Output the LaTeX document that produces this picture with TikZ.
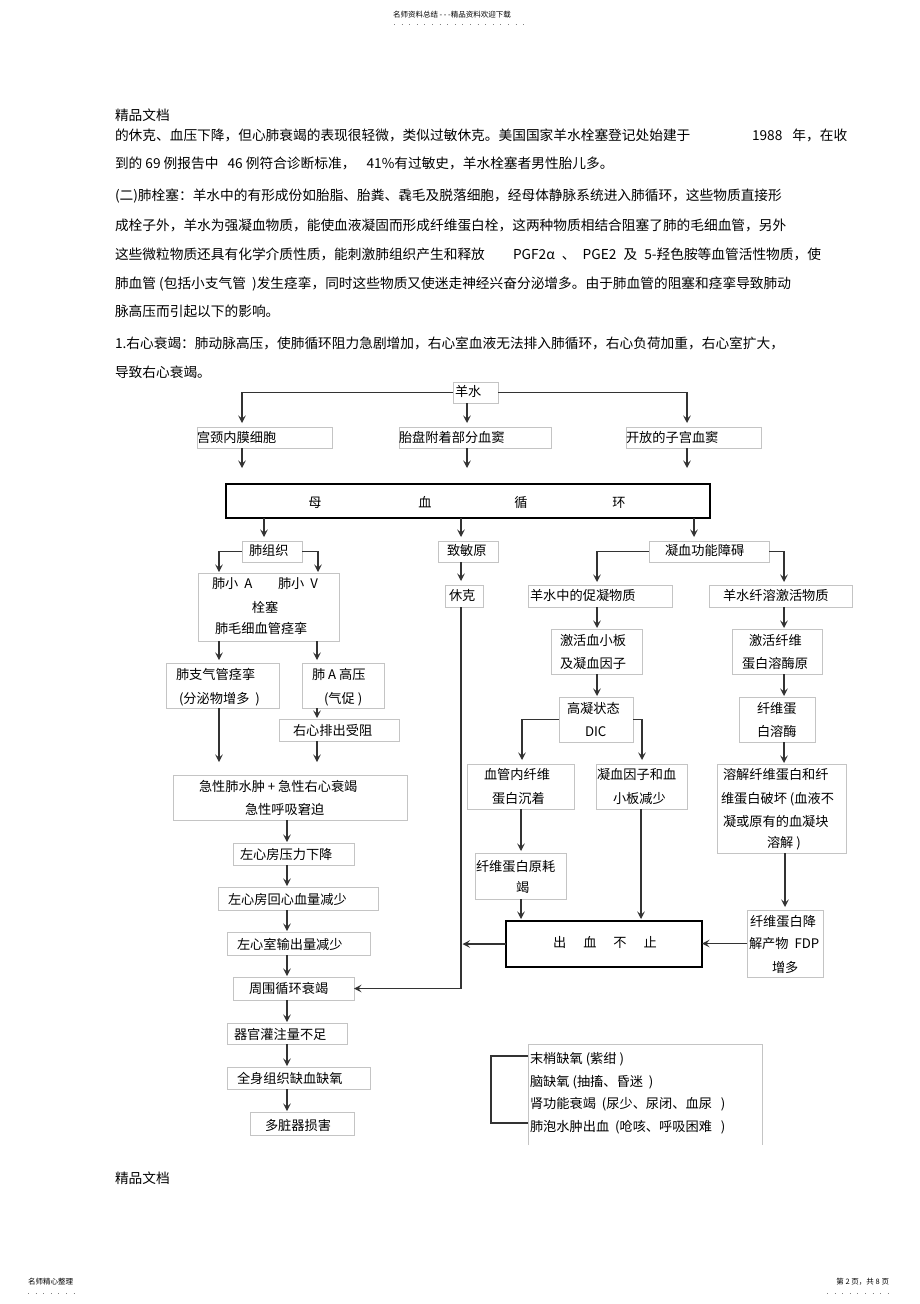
\documentclass[tikz,border=0pt]{standalone}
\usepackage{fontspec}
\setmainfont{Noto Sans CJK SC}
\usetikzlibrary{arrows.meta}
\definecolor{boxgray}{HTML}{C4C4C4}
\definecolor{arrgray}{HTML}{333333}
\newcommand\bodyfont{\fontsize{13.7}{16}\selectfont}
\newcommand\dgfont{\fontsize{13.2}{16}\selectfont}
\newcommand\smallfont{\fontsize{7.5}{9}\selectfont}
\newcount\tcnt
% text, west-aligned, diagram font
\newcommand\tw[3]{\global\advance\tcnt by 1 \node[tx,anchor=base west,font=\dgfont] (t\the\tcnt) at (#1,{#2+4.8}) {#3};}
% text, centred, diagram font
\newcommand\tc[3]{\global\advance\tcnt by 1 \node[tx,anchor=base,font=\dgfont] (t\the\tcnt) at (#1,{#2+4.8}) {#3};}
% body text
\newcommand\bw[3]{\global\advance\tcnt by 1 \node[tx,anchor=base west,font=\bodyfont] (t\the\tcnt) at (#1,{#2+5}) {#3};}
% box from corners
\newcommand\bxn[6][]{\node[bx,#1,minimum width={#5-#3},minimum height={#6-#4}] (#2) at ({(#3+#5)/2},{(#4+#6)/2}) {};}
% vertical arrow
\newcommand\varr[4][1]{\path ([xshift=#4pt]#2.south) coordinate (vtmp); \draw[arr,shorten >=#1pt] (vtmp) -- (vtmp |- #3.north);}
% elbow arrow
\newcommand\earr[5][1]{\path ([xshift=#5pt]#3.north) coordinate (etmp); \draw[arr,shorten >=#1pt] (#2.#4) -| (etmp);}
\begin{document}
\begin{tikzpicture}[x=1pt,y=-1pt,
 bx/.style={draw=boxgray,line width=0.75pt,inner sep=0pt,outer sep=0pt,rectangle},
 bxk/.style={draw=black,line width=1.5pt},
 tx/.style={inner sep=0pt,outer sep=0pt,text=black},
 arr/.style={draw=arrgray,line width=1.5pt,-{Stealth[length=7.5pt,width=7.5pt,inset=3pt]}},
 ln/.style={draw=arrgray,line width=1.5pt},
 boxline/.style={draw=boxgray,line width=0.75pt},
 dotl/.style={draw=gray,line width=0.9pt,dash pattern=on 0.9pt off 6.7pt},
]
\path[fill=white] (0,0) rectangle (920,1304);

% header / footer
\node[tx,font=\smallfont,anchor=base west] (hd) at (393,17.5) {名师资料总结 - - -精品资料欢迎下载};
\draw[dotl] (394,24) -- (525,24);
\node[tx,font=\smallfont,anchor=base west] (ft1) at (28,1284) {名师精心整理};
\draw[dotl] (28,1293) -- (76,1293);
\node[tx,font=\smallfont,anchor=base east] (ft2) at (889,1284) {第 2 页，共 8 页};
\draw[dotl] (827,1293) -- (890,1293);
\bw{115}{115}{精品文档}
\bw{115}{1178}{精品文档}

% body text
\bw{115}{135}{的休克、血压下降，但心肺衰竭的表现很轻微，类似过敏休克。美国国家羊水栓塞登记处始建于}
\bw{752}{135}{1988\hspace{7pt} 年，在收}
\bw{115}{163}{到的 69 例报告中\hspace{6pt} 46 例符合诊断标准，\hspace{8pt} 41\%有过敏史，羊水栓塞者男性胎儿多。}
\bw{115}{195}{(二)肺栓塞：羊水中的有形成份如胎脂、胎粪、毳毛及脱落细胞，经母体静脉系统进入肺循环，这些物质直接形}
\bw{115}{225}{成栓子外，羊水为强凝血物质，能使血液凝固而形成纤维蛋白栓，这两种物质相结合阻塞了肺的毛细血管，另外}
\bw{115}{254}{这些微粒物质还具有化学介质性质，能刺激肺组织产生和释放}
\bw{513}{254}{PGF2α\hspace{4pt} 、\hspace{4pt} PGE2\hspace{4pt} 及\hspace{4pt} 5-羟色胺等血管活性物质，使}
\bw{115}{283}{肺血管 (包括小支气管 \ )发生痉挛，同时这些物质又使迷走神经兴奋分泌增多。由于肺血管的阻塞和痉挛导致肺动}
\bw{115}{311}{脉高压而引起以下的影响。}
\bw{115}{343}{1.右心衰竭：肺动脉高压，使肺循环阻力急剧增加，右心室血液无法排入肺循环，右心负荷加重，右心室扩大，}
\bw{115}{372}{导致右心衰竭。}

% boxes
\bxn{ys}{453}{382}{498}{403}
\bxn{gj}{197}{427}{332}{448}
\bxn{tp}{399}{427}{551}{448}
\bxn{kf}{626}{427}{761}{448}
\bxn[bxk]{mx}{226}{484}{710}{518}
\bxn{fzz}{242}{541}{302}{562}
\bxn{zmy}{438}{541}{498}{562}
\bxn{nx}{649}{541}{769}{562}
\bxn{fx}{198}{573}{339}{641}
\bxn{xk}{445}{585}{483}{607}
\bxn{cn}{528}{585}{672}{607}
\bxn{xr}{709}{585}{852}{607}
\bxn{zq}{166}{663}{279}{708}
\bxn{fa}{302}{663}{384}{708}
\bxn{jh}{551}{629}{642}{674}
\bxn{jq}{732}{629}{822}{674}
\bxn{yx}{279}{719}{399}{741}
\bxn{gn}{559}{697}{633}{742}
\bxn{xm}{739}{697}{815}{742}
\bxn{xg}{467}{764}{574}{809}
\bxn{nyz}{596}{764}{687}{809}
\bxn{rj}{717}{764}{846}{853}
\bxn{jx}{173}{775}{407}{820}
\bxn{zx}{233}{843}{354}{865}
\bxn{hj}{475}{853}{566}{899}
\bxn{hx}{218}{887}{378}{910}
\bxn{fdp}{747}{910}{823}{977}
\bxn[bxk]{cx}{506}{921}{702}{967}
\bxn{sx}{227}{932}{370}{955}
\bxn{zw}{233}{977}{354}{1000}
\bxn{qg}{227}{1023}{347}{1044}
\bxn{qs}{227}{1067}{370}{1089}
\bxn{dz}{250}{1112}{354}{1135}
\bxn[draw=none]{bl}{528}{1044}{762}{1145}
\draw[boxline] (bl.south west) -- (bl.north west) -- (bl.north east) -- (bl.south east);

% texts in diagram
\tw{455}{392}{羊水}
\tw{197}{438}{宫颈内膜细胞}
\tw{399}{438}{胎盘附着部分血窦}
\tw{626}{438}{开放的子宫血窦}
\tc{315}{503}{母}
\tc{425}{503}{血}
\tc{521}{503}{循}
\tc{619}{503}{环}
\tw{249}{551}{肺组织}
\tw{447}{551}{致敏原}
\tw{665}{551}{凝血功能障碍}
\tw{212}{584}{肺小 \ A}
\tw{278}{584}{肺小 \ V}
\tc{265}{608}{栓塞}
\tw{215}{629}{肺毛细血管痉挛}
\tw{449}{596}{休克}
\tw{530}{596}{羊水中的促凝物质}
\tw{723}{596}{羊水纤溶激活物质}
\tw{176}{675}{肺支气管痉挛}
\tw{179}{699}{(分泌物增多 \ )}
\tw{312}{675}{肺 A 高压}
\tw{324}{699}{(气促 )}
\tw{560}{641}{激活血小板}
\tw{560}{664}{及凝血因子}
\tw{749}{641}{激活纤维}
\tw{742}{664}{蛋白溶酶原}
\tw{293}{731}{右心排出受阻}
\tw{567}{709}{高凝状态}
\tw{585}{732}{DIC}
\tw{757}{709}{纤维蛋}
\tw{757}{732}{白溶酶}
\tw{484}{775}{血管内纤维}
\tw{492}{799}{蛋白沉着}
\tw{597}{775}{凝血因子和血}
\tw{613}{799}{小板减少}
\tw{723}{775}{溶解纤维蛋白和纤}
\tw{721}{799}{维蛋白破坏 (血液不}
\tw{723}{822}{凝或原有的血凝块}
\tw{767}{843}{溶解 )}
\tw{199}{787}{急性肺水肿 + 急性右心衰竭}
\tw{245}{810}{急性呼吸窘迫}
\tw{240}{855}{左心房压力下降}
\tw{476}{867}{纤维蛋白原耗}
\tw{516}{888}{竭}
\tw{228}{900}{左心房回心血量减少}
\tw{750}{922}{纤维蛋白降}
\tw{749}{944}{解产物 \ FDP}
\tw{772}{968}{增多}
\tc{605}{943}{出\hspace{17pt}血\hspace{17pt}不\hspace{17pt}止}
\tw{237}{945}{左心室输出量减少}
\tw{249}{989}{周围循环衰竭}
\tw{234}{1035}{器官灌注量不足}
\tw{237}{1079}{全身组织缺血缺氧}
\tw{265}{1126}{多脏器损害}
\tw{530}{1059}{末梢缺氧 (紫绀 )}
\tw{530}{1082}{脑缺氧 (抽搐、昏迷 \ )}
\tw{530}{1104}{肾功能衰竭 \ (尿少、尿闭、血尿 \ \ )}
\tw{530}{1127}{肺泡水肿出血 \ (呛咳、呼吸困难 \ \ )}

% connectors
\earr[4]{ys}{gj}{west}{-22.5}
\varr[4]{ys}{tp}{-8.5}
\earr[4]{ys}{kf}{east}{-6.5}
\varr[16]{gj}{mx}{-22.5}
\varr[16]{tp}{mx}{-8}
\varr[16]{kf}{mx}{-6.5}
\varr[4]{mx}{fzz}{-204}
\varr[4]{mx}{zmy}{-7}
\varr[4]{mx}{nx}{226}
\varr[4]{zmy}{xk}{-7}
\earr[1]{fzz}{fx}{west}{-49.5}
\earr[1]{fzz}{fx}{east}{49.5}
\earr[3]{nx}{cn}{west}{-3}
\earr[3]{nx}{xr}{east}{3.5}
\varr[3]{fx}{zq}{-49.5}
\varr[3]{fx}{fa}{48.5}
\varr[1]{fa}{yx}{-26}
\varr[13]{zq}{jx}{-3.5}
\varr[13]{yx}{jx}{-22}
\varr{jx}{zx}{-3}
\varr{zx}{hx}{-6.5}
\varr{hx}{sx}{-11}
\varr{sx}{zw}{-11.5}
\varr{zw}{qg}{-6.5}
\varr{qg}{qs}{0}
\varr{qs}{dz}{-11.5}
\varr{cn}{jh}{-3}
\varr{jh}{gn}{0.5}
\varr{xr}{jq}{3.5}
\varr{jq}{xm}{7}
\varr{xm}{rj}{7}
\earr[4]{gn}{xg}{west}{1.5}
\earr[4]{gn}{nyz}{east}{0.5}
\varr[2]{xg}{hj}{0.5}
\varr[2]{hj}{cx}{0.5}
\varr[2]{nyz}{cx}{-0.5}
\varr[3]{rj}{fdp}{3.5}
\draw[arr] (fdp.west) -- (fdp.west -| cx.east);
\path ([xshift=-3pt]xk.south) coordinate (sk);
\draw[arr] (sk) |- (zw.east);
\draw[arr,shorten >=1.5pt] (cx.west) -- (cx.west -| sk);
\draw[ln] ([yshift=-12pt]bl.north west) -- ++(-37,0) |- ([yshift=22pt]bl.south west);
\end{tikzpicture}
\end{document}
